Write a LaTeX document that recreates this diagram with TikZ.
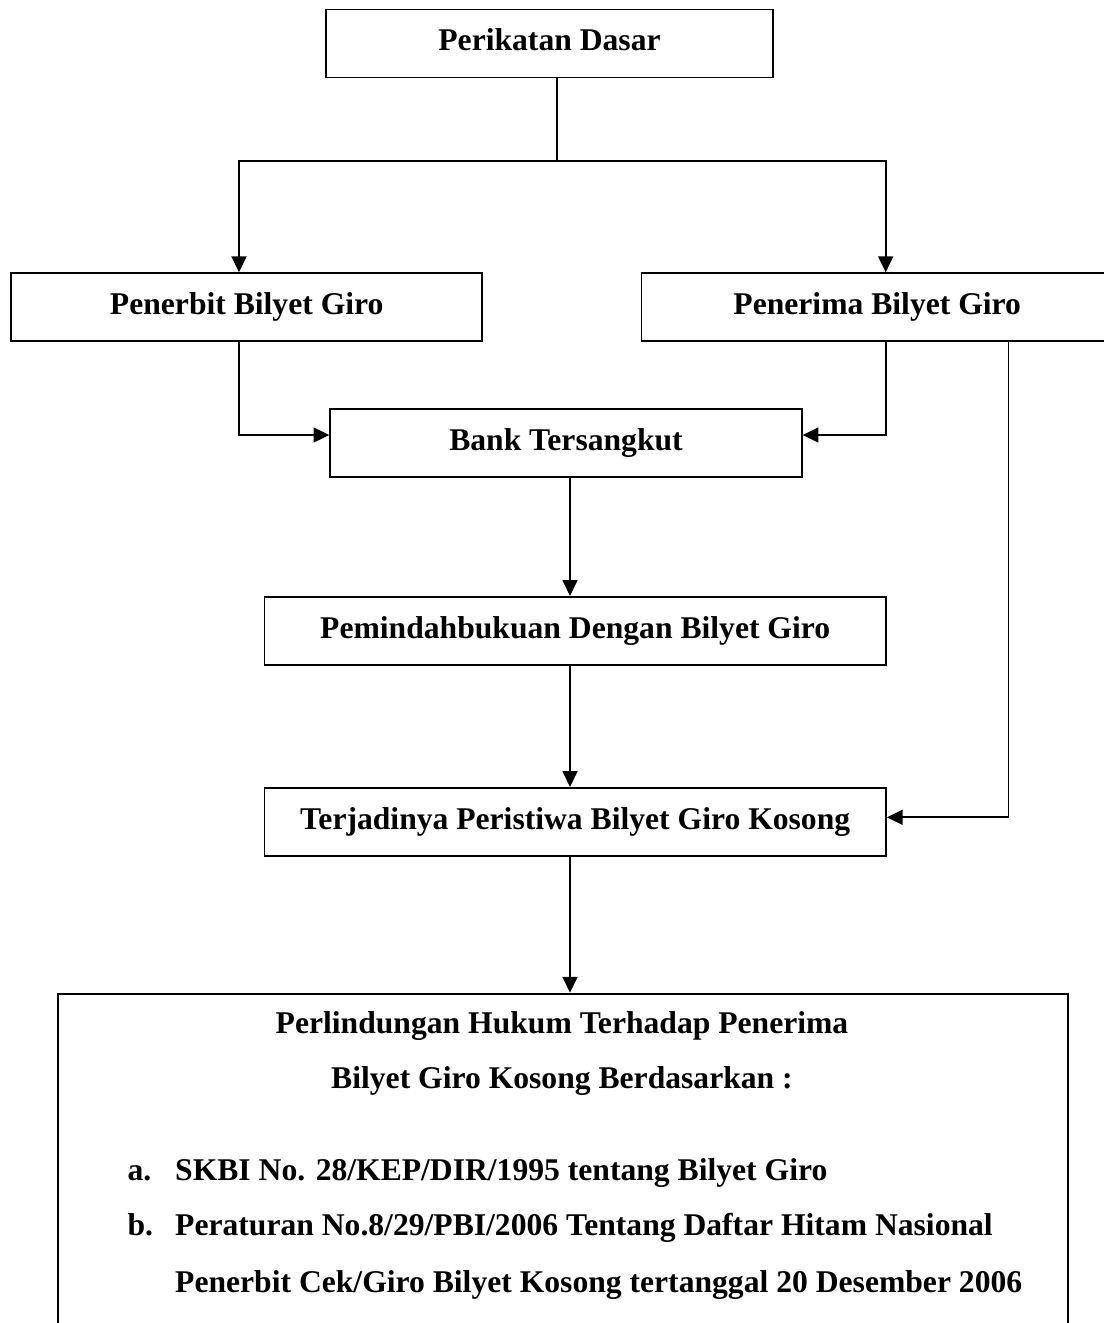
\documentclass[tikz,border=0pt]{standalone}
\usepackage{fontspec}
\setmainfont{Liberation Serif}
\usetikzlibrary{arrows.meta,positioning,calc}

\begin{document}
\begin{tikzpicture}[x=0.02cm,y=-0.02cm,line width=1pt,
  every node/.style={font=\fontsize{18}{22}\selectfont\bfseries},
  box/.style={draw,line width=1.1pt,inner sep=0pt,minimum height=1.36cm,text height=12.5pt,text depth=4pt},
  arr/.style={-{Triangle[length=9pt,width=8.5pt]}},
  txt/.style={inner sep=0pt,anchor=base west}]
  \clip (0,0) rectangle (1104,1323);
  \node[box,minimum width=8.94cm] (dasar) at (549.5,43.5) {Perikatan Dasar};
  \node[box,minimum width=9.43cm] (penerbit) at (246.7,307.2) {Penerbit Bilyet Giro};
  \node[box,minimum width=9.43cm] (penerima) at (877.2,307.2) {Penerima Bilyet Giro};
  \node[box,minimum width=9.43cm] (bank) at (566,442.9) {Bank Tersangkut};
  \node[box,minimum width=12.43cm] (pindah) at (575.2,630.9) {Pemindahbukuan Dengan Bilyet Giro};
  \node[box,minimum width=12.43cm] (kosong) at (575.2,821.9) {Terjadinya Peristiwa Bilyet Giro Kosong};
  \node[box,anchor=north,minimum width=20.2cm,minimum height=8.2cm] (hukum) at (562.7,992.7) {};
  \coordinate (split) at (556.7,161);
  \coordinate (lx) at (239,435);
  \coordinate (rx) at (885.7,435);
  \coordinate (fx) at (1008.5,817.3);
  \coordinate (cx) at (570,0);
  \draw (dasar.south -| split) -- (split);
  \draw[arr] (split) -| (penerbit.north -| lx);
  \draw[arr] (split) -| (penerima.north -| rx);
  \draw[arr] (penerbit.south -| lx) |- (bank.west |- lx);
  \draw[arr] (penerima.south -| rx) |- (bank.east |- rx);
  \draw[arr] (penerima.south -| fx) |- (kosong.east |- fx);
  \draw[arr] (bank.south -| cx) -- (pindah.north -| cx);
  \draw[arr] (pindah.south -| cx) -- (kosong.north -| cx);
  \draw[arr] (kosong.south -| cx) -- (hukum.north -| cx);
  \node[inner sep=0pt,anchor=base] (judul1) at (562,1033) {Perlindungan Hukum Terhadap Penerima};
  \node[inner sep=0pt,anchor=base] (judul2) at (562,1088) {Bilyet Giro Kosong Berdasarkan :};
  \node[txt] (ha) at (126.7,1180) {a.};
  \node[txt] (ia) at (174.3,1180) {SKBI No. 28/KEP/DIR/1995 tentang Bilyet Giro};
  \node[txt] (hb) at (126.7,1235) {b.};
  \node[txt] (ib) at (174.3,1235) {Peraturan No.8/29/PBI/2006 Tentang Daftar Hitam Nasional};
  \node[txt] (ic) at (174.3,1292.7) {Penerbit Cek/Giro Bilyet Kosong tertanggal 20 Desember 2006};
\end{tikzpicture}
\end{document}
